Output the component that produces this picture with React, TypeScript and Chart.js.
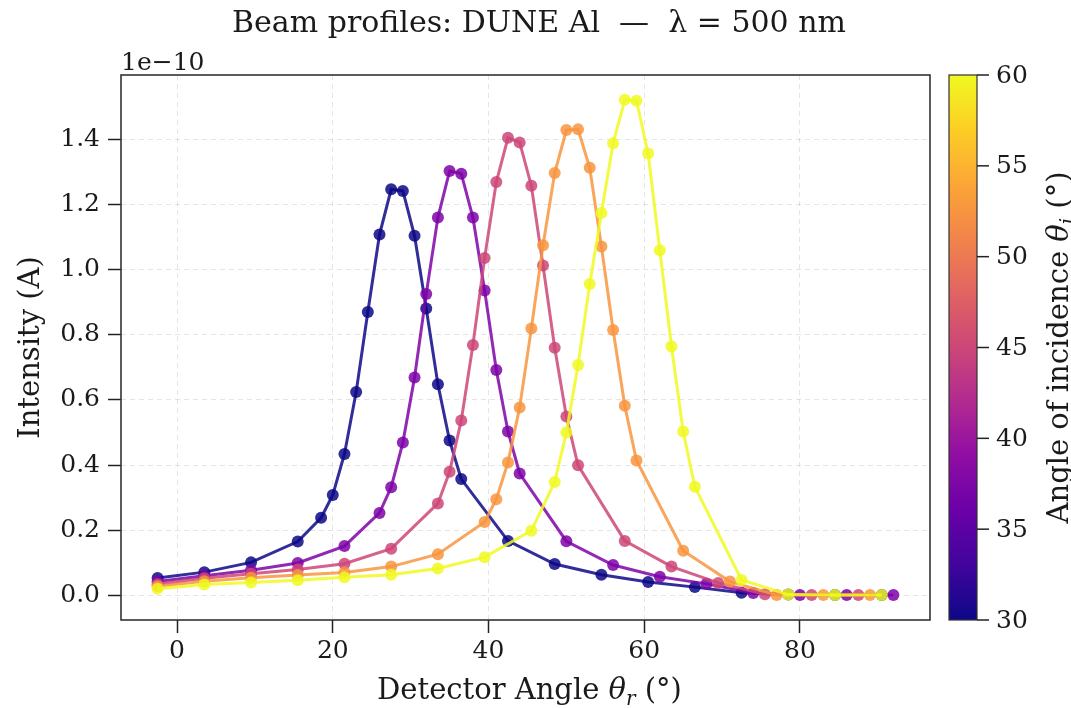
import React, { useEffect, useRef } from "react";
import { Chart, registerables } from "chart.js";

Chart.register(...registerables);

const FONT = "'DejaVu Serif', serif";

// Angles of incidence (deg) and their plasma colours
const incidenceAngles = [30, 37.5, 45, 52.5, 60];
const seriesColors = ["#0d0887", "#7e03a8", "#cc4778", "#f89540", "#f0f921"];

// Detector angle (deg) and intensity (units of 1e-10 A) per incidence angle
const x30 = [-2.5, 3.5, 9.5, 15.5, 18.5, 20, 21.5, 23, 24.5, 26, 27.5, 29, 30.5, 32, 33.5, 35, 36.5, 42.5, 48.5, 54.5, 60.5, 66.5, 72.5, 78.5, 84.5, 90.5];
const y30 = [0.053, 0.071, 0.101, 0.165, 0.238, 0.308, 0.434, 0.624, 0.87, 1.108, 1.247, 1.242, 1.104, 0.881, 0.648, 0.475, 0.357, 0.167, 0.096, 0.063, 0.041, 0.025, 0.008, 0.002, 0.001, 0.001];

const x375 = [-2.5, 3.5, 9.5, 15.5, 21.5, 26, 27.5, 29, 30.5, 32, 33.5, 35, 36.5, 38, 39.5, 41, 42.5, 44, 50, 56, 62, 68, 74, 80, 86, 92];
const y375 = [0.042, 0.06, 0.077, 0.099, 0.151, 0.253, 0.332, 0.469, 0.669, 0.925, 1.16, 1.303, 1.295, 1.16, 0.936, 0.692, 0.503, 0.374, 0.166, 0.093, 0.057, 0.035, 0.007, 0.001, 0.001, 0.001];

const x45 = [-2.5, 3.5, 9.5, 15.5, 21.5, 27.5, 33.5, 35, 36.5, 38, 39.5, 41, 42.5, 44, 45.5, 47, 48.5, 50, 51.5, 57.5, 63.5, 69.5, 75.5, 81.5, 87.5];
const y45 = [0.034, 0.052, 0.066, 0.079, 0.097, 0.143, 0.282, 0.379, 0.537, 0.769, 1.036, 1.269, 1.405, 1.391, 1.258, 1.013, 0.76, 0.549, 0.399, 0.167, 0.088, 0.038, 0.003, 0.001, 0.001];

const x525 = [-2.5, 3.5, 9.5, 15.5, 21.5, 27.5, 33.5, 39.5, 41, 42.5, 44, 45.5, 47, 48.5, 50, 51.5, 53, 54.5, 56, 57.5, 59, 65, 71, 77, 83, 89];
const y525 = [0.028, 0.043, 0.054, 0.062, 0.07, 0.088, 0.126, 0.225, 0.295, 0.408, 0.577, 0.819, 1.075, 1.297, 1.429, 1.431, 1.313, 1.071, 0.815, 0.582, 0.414, 0.137, 0.042, 0.001, 0.001, 0.001];

const x60 = [-2.5, 3.5, 9.5, 15.5, 21.5, 27.5, 33.5, 39.5, 45.5, 48.5, 50, 51.5, 53, 54.5, 56, 57.5, 59, 60.5, 62, 63.5, 65, 66.5, 72.5, 78.5, 84.5, 90.5];
const y60 = [0.02, 0.033, 0.039, 0.046, 0.055, 0.063, 0.082, 0.117, 0.198, 0.348, 0.5, 0.707, 0.956, 1.174, 1.388, 1.522, 1.519, 1.357, 1.06, 0.764, 0.503, 0.333, 0.047, 0.002, 0.001, 0.001];

const seriesX = [x30, x375, x45, x525, x60];
const seriesY = [y30, y375, y45, y525, y60];

// Axis ticks
const xTicks = [0, 20, 40, 60, 80];
const yTicks = [0, 0.2, 0.4, 0.6, 0.8, 1.0, 1.2, 1.4];
const cbTicks = [30, 35, 40, 45, 50, 55, 60];
const cbRange = [30, 60];

// plasma colormap stops
const plasmaStops = ["#0d0887", "#41049d", "#6a00a8", "#8f0da4", "#b12a90", "#cc4778", "#e16462", "#f2844b", "#fca636", "#fcce25", "#f0f921"];

function rgba(hex: string, a: number) {
  const n = parseInt(hex.slice(1), 16);
  return `rgba(${(n >> 16) & 255},${(n >> 8) & 255},${n & 255},${a})`;
}

type Part = { t: string; it?: boolean; sub?: boolean };

function drawParts(ctx: CanvasRenderingContext2D, parts: Part[], cx: number, y: number, size: number) {
  const fontFor = (p: Part) => `${p.it ? "italic " : ""}${p.sub ? Math.round(size * 0.7) : size}px ${FONT}`;
  let total = 0;
  const widths = parts.map((p) => {
    ctx.font = fontFor(p);
    const w = ctx.measureText(p.t).width;
    total += w;
    return w;
  });
  let x = cx - total / 2;
  ctx.textAlign = "left";
  ctx.textBaseline = "alphabetic";
  parts.forEach((p, i) => {
    ctx.font = fontFor(p);
    ctx.fillText(p.t, x, p.sub ? y + size * 0.2 : y);
    x += widths[i];
  });
}

const TEXT = "#1a1a1a";
const TICK_SIZE = 25;
const LABEL_SIZE = 29;

const decorPlugin = {
  id: "decor",
  afterDraw(chart: any) {
    const { ctx, chartArea: ca } = chart;
    ctx.save();
    // frame
    ctx.strokeStyle = "#333";
    ctx.lineWidth = 1.6;
    ctx.strokeRect(ca.left, ca.top, ca.right - ca.left, ca.bottom - ca.top);

    ctx.fillStyle = TEXT;
    // title
    ctx.font = `30px ${FONT}`;
    ctx.textAlign = "center";
    ctx.textBaseline = "alphabetic";
    ctx.fillText("Beam profiles: DUNE Al  \u2014  \u03bb = 500 nm", 539, 32);

    // offset text
    ctx.font = `25px ${FONT}`;
    ctx.textAlign = "left";
    ctx.fillText("1e\u221210", ca.left, 70);

    // x title
    drawParts(ctx, [
      { t: "Detector Angle " },
      { t: "\u03b8", it: true },
      { t: "r", it: true, sub: true },
      { t: " (\u00b0)" },
    ], (ca.left + ca.right) / 2 + 4, 699, LABEL_SIZE);

    // y title
    ctx.save();
    ctx.translate(31, (ca.top + ca.bottom) / 2);
    ctx.rotate(-Math.PI / 2);
    ctx.font = `${LABEL_SIZE}px ${FONT}`;
    ctx.textAlign = "center";
    ctx.textBaseline = "middle";
    ctx.fillText("Intensity (A)", 0, 0);
    ctx.restore();

    // colorbar
    const cbL = 949, cbR = 977, cbT = ca.top, cbB = ca.bottom;
    const g = ctx.createLinearGradient(0, cbB, 0, cbT);
    plasmaStops.forEach((c, i) => g.addColorStop(i / (plasmaStops.length - 1), c));
    ctx.fillStyle = g;
    ctx.fillRect(cbL, cbT, cbR - cbL, cbB - cbT);
    ctx.strokeStyle = "#333";
    ctx.lineWidth = 1.2;
    ctx.strokeRect(cbL, cbT, cbR - cbL, cbB - cbT);
    ctx.fillStyle = TEXT;
    ctx.font = `${TICK_SIZE}px ${FONT}`;
    ctx.textAlign = "left";
    ctx.textBaseline = "middle";
    cbTicks.forEach((v) => {
      const y = cbB - ((v - cbRange[0]) / (cbRange[1] - cbRange[0])) * (cbB - cbT);
      ctx.beginPath();
      ctx.moveTo(cbR, y);
      ctx.lineTo(cbR + 12, y);
      ctx.lineWidth = 1.5;
      ctx.strokeStyle = "#222";
      ctx.stroke();
      ctx.fillText(String(v), cbR + 19, y + 1);
    });
    ctx.save();
    ctx.translate(1058, (cbT + cbB) / 2);
    ctx.rotate(-Math.PI / 2);
    ctx.fillStyle = TEXT;
    drawParts(ctx, [
      { t: "Angle of incidence " },
      { t: "\u03b8", it: true },
      { t: "i", it: true, sub: true },
      { t: " (\u00b0)" },
    ], 0, 10, LABEL_SIZE);
    ctx.restore();

    ctx.restore();
  },
};

export default function App() {
  const ref = useRef<HTMLCanvasElement | null>(null);

  useEffect(() => {
    if (!ref.current) return;
    const datasets = incidenceAngles.map((a, i) => {
      const col = rgba(seriesColors[i], 0.85);
      return {
        label: `\u03b8i = ${a}\u00b0`,
        data: seriesX[i].map((x, j) => ({ x, y: seriesY[i][j] })),
        showLine: true,
        borderColor: col,
        backgroundColor: col,
        pointBackgroundColor: col,
        pointBorderColor: col,
        pointBorderWidth: 0,
        pointRadius: 6,
        borderWidth: 3,
        tension: 0,
        order: incidenceAngles.length - i,
      };
    });

    const chart = new Chart(ref.current, {
      type: "scatter",
      data: { datasets },
      options: {
        animation: false,
        responsive: false,
        devicePixelRatio: 1,
        layout: { padding: { left: 0, top: 75, right: 141, bottom: 0 } },
        plugins: { legend: { display: false }, tooltip: { enabled: false }, title: { display: false } },
        scales: {
          x: {
            type: "linear",
            min: -7.2,
            max: 96.7,
            afterBuildTicks: (s: any) => {
              s.ticks = xTicks.map((v) => ({ value: v }));
            },
            afterFit: (s: any) => {
              s.height = 88;
            },
            ticks: {
              font: { family: FONT, size: TICK_SIZE },
              color: TEXT,
              padding: 3,
              maxRotation: 0,
              autoSkip: false,
              callback: (v: any) => String(v),
            },
            grid: {
              color: "rgba(0,0,0,0.10)",
              lineWidth: 1,
              tickLength: 13,
              tickColor: "#222",
              tickWidth: 1.5,
            },
            border: { display: false, dash: [5, 4] },
          },
          y: {
            type: "linear",
            min: -0.076,
            max: 1.598,
            afterBuildTicks: (s: any) => {
              s.ticks = yTicks.map((v) => ({ value: v }));
            },
            afterFit: (s: any) => {
              s.width = 121;
            },
            ticks: {
              font: { family: FONT, size: TICK_SIZE },
              color: TEXT,
              padding: 8,
              autoSkip: false,
              callback: (v: any) => Number(v).toFixed(1),
            },
            grid: {
              color: "rgba(0,0,0,0.10)",
              lineWidth: 1,
              tickLength: 13,
              tickColor: "#222",
              tickWidth: 1.5,
            },
            border: { display: false, dash: [5, 4] },
          },
        },
      },
      plugins: [decorPlugin],
    } as any);
    return () => chart.destroy();
  }, []);

  return (
    <div style={{ position: "absolute", left: 0, top: 0, width: 1071, height: 708, background: "#fff" }}>
      <canvas ref={ref} width={1071} height={708} style={{ display: "block" }} />
    </div>
  );
}
